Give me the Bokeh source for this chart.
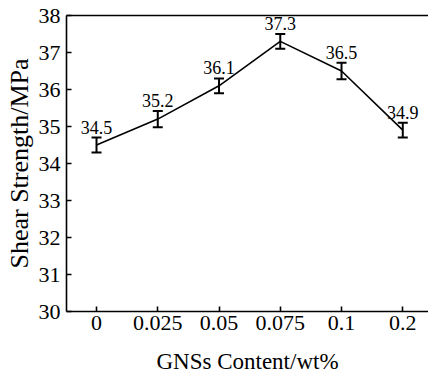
from bokeh.plotting import figure
from bokeh.models import (ColumnDataSource, Range1d, FixedTicker, LinearAxis,
                          Whisker, TeeHead, LabelSet)
from bokeh.embed import file_html
from bokeh.resources import INLINE

categories = ["0", "0.025", "0.05", "0.075", "0.1", "0.2"]
strength = [34.5, 35.2, 36.1, 37.3, 36.5, 34.9]
errors = [0.2, 0.22, 0.2, 0.2, 0.22, 0.2]
labels = ["34.5", "35.2", "36.1", "37.3", "36.5", "34.9"]

FONT = "Liberation Serif"

xs = list(range(len(categories)))
src = ColumnDataSource(dict(
    x=xs, y=strength,
    lower=[v - e for v, e in zip(strength, errors)],
    upper=[v + e for v, e in zip(strength, errors)],
    lab=labels,
))

p = figure(width=428, height=376, output_backend="svg", toolbar_location=None,
           x_range=Range1d(-0.49, 5.42), y_range=Range1d(30, 38),
           min_border_left=66, min_border_right=0, min_border_top=15,
           min_border_bottom=65)
p.outline_line_color = None
p.grid.grid_line_color = None
p.background_fill_color = "white"
p.border_fill_color = "white"

p.line("x", "y", source=src, line_color="black", line_width=1.6)

w = Whisker(source=src, base="x", lower="lower", upper="upper",
            line_color="black", line_width=2,
            upper_head=TeeHead(size=10, line_color="black", line_width=2),
            lower_head=TeeHead(size=10, line_color="black", line_width=2))
p.add_layout(w)

ls = LabelSet(x="x", y="upper", text="lab", source=src, text_align="center",
              text_baseline="bottom", y_offset=4, text_font=FONT,
              text_font_size="18px", text_color="black")
p.add_layout(ls)

xa = p.xaxis[0]
xa.ticker = FixedTicker(ticks=xs)
xa.major_label_overrides = {i: c for i, c in enumerate(categories)}
ya = p.yaxis[0]
ya.ticker = FixedTicker(ticks=list(range(30, 39)))

for ax in (xa, ya):
    ax.axis_line_color = "black"
    ax.axis_line_width = 1.6
    ax.major_tick_line_color = "black"
    ax.major_tick_line_width = 1.6
    ax.major_tick_in = 5
    ax.major_tick_out = 0
    ax.minor_tick_line_color = None
    ax.major_label_text_font = FONT
    ax.major_label_text_font_size = "22px"
    ax.major_label_text_color = "black"
    ax.axis_label_text_font = FONT
    ax.axis_label_text_font_style = "normal"
    ax.axis_label_text_color = "black"

xa.axis_label = "GNSs Content/wt%"
xa.axis_label_text_font_size = "23px"
xa.major_label_standoff = 4
xa.axis_label_standoff = 16
ya.axis_label = "Shear Strength/MPa"
ya.axis_label_text_font_size = "26px"
ya.major_label_standoff = 6
ya.axis_label_standoff = 2

top = LinearAxis(major_tick_line_color=None, minor_tick_line_color=None,
                 major_label_text_font_size="0px", axis_line_color="black",
                 axis_line_width=1.6, ticker=FixedTicker(ticks=[]))
p.add_layout(top, "above")

open("out.html", "w").write(file_html(p, INLINE))
